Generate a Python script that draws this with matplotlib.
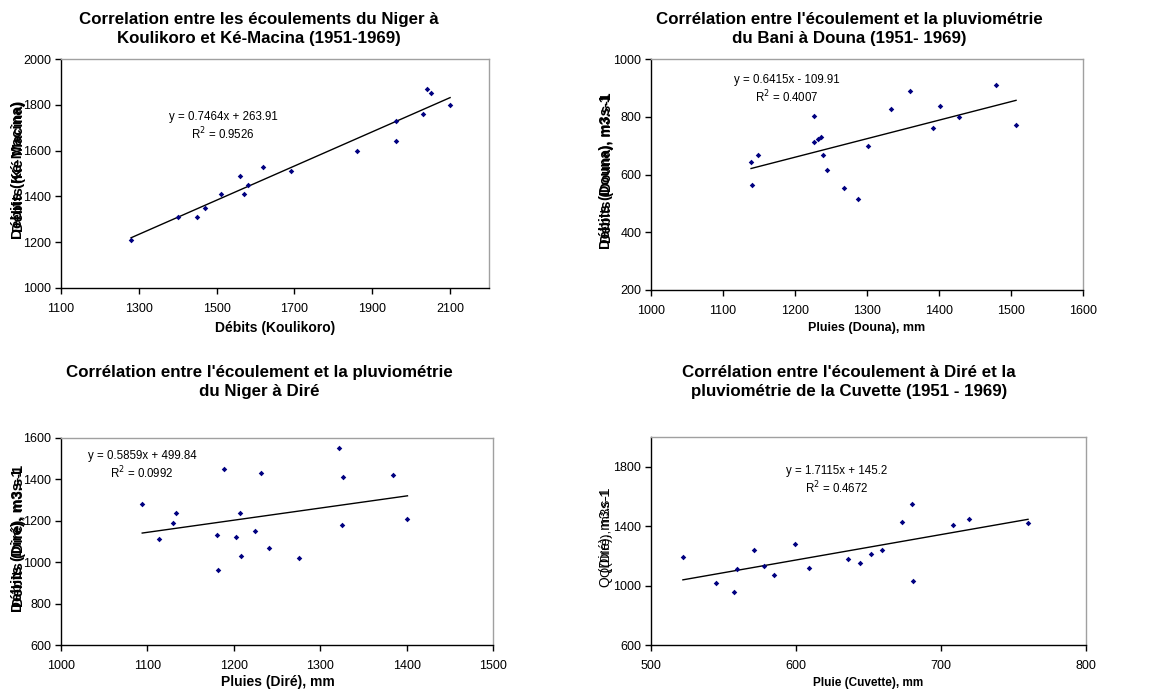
import matplotlib
matplotlib.use("Agg")
import matplotlib.pyplot as plt
import numpy as np

plt.rcParams['font.family'] = ['Liberation Sans', 'DejaVu Sans']

W, H = 1156, 691

# ---- Data ----
kou_x = [1280, 1400, 1450, 1470, 1510, 1560, 1570, 1580, 1620, 1690, 1860, 1960, 1960, 2030, 2040, 2050, 2100]
kem_y = [1210, 1310, 1310, 1350, 1410, 1490, 1410, 1450, 1530, 1510, 1600, 1730, 1640, 1760, 1870, 1850, 1800]
kou_fit = (0.7464, 263.91)

douna_rain = [1139, 1140, 1149, 1227, 1227, 1232, 1236, 1239, 1244, 1268, 1288, 1302, 1333, 1360, 1391, 1402, 1428, 1479, 1507]
douna_q = [645, 562, 668, 802, 711, 723, 729, 668, 615, 553, 516, 697, 828, 890, 760, 837, 798, 910, 771]
douna_fit = (0.6415, -109.91)

dire_rain = [1094, 1114, 1130, 1133, 1181, 1182, 1189, 1203, 1207, 1208, 1225, 1232, 1241, 1276, 1322, 1325, 1326, 1384, 1401]
dire_q = [1280, 1110, 1190, 1240, 1130, 960, 1450, 1120, 1240, 1030, 1150, 1430, 1070, 1020, 1550, 1180, 1410, 1420, 1210]
dire_fit = (0.5859, 499.84)

cuv_rain = [522, 545, 557, 559, 571, 578, 585, 599, 609, 636, 644, 652, 659, 673, 680, 681, 708, 719, 760]
cuv_q = [1190, 1020, 960, 1110, 1240, 1130, 1070, 1280, 1120, 1180, 1150, 1210, 1240, 1430, 1550, 1030, 1410, 1450, 1420]
cuv_fit = (1.7115, 145.2)

titles = [
    "Correlation entre les écoulements du Niger à\nKoulikoro et Ké-Macina (1951-1969)",
    "Corrélation entre l'écoulement et la pluviométrie\ndu Bani à Douna (1951- 1969)",
    "Corrélation entre l'écoulement et la pluviométrie\ndu Niger à Diré",
    "Corrélation entre l'écoulement à Diré et la\npluviométrie de la Cuvette (1951 - 1969)",
]
xlabels = ["Débits (Koulikoro)", "Pluies (Douna), mm", "Pluies (Diré), mm", "Pluie (Cuvette), mm"]
ylabels = [("Débits (Ké-Macina)", "Débits (Ké Macina)"),
           ("Débits (Douna), m3s-1", "Débits (Douna), m3.s-1"),
           ("Débits (Diré), m3s-1", "Débits (Diré), m3.s-1"),
           ("Q (Diré), m3.s-1", "Q(Diré), m3s-1")]
eqs = ["y = 0.7464x + 263.91", "y = 0.6415x - 109.91", "y = 0.5859x + 499.84", "y = 1.7115x + 145.2"]
r2s = ["R$^2$ = 0.9526", "R$^2$ = 0.4007", "R$^2$ = 0.0992", "R$^2$ = 0.4672"]

xlims = [(1100, 2200), (1000, 1600), (1000, 1500), (500, 800)]
xticks = [np.arange(1100, 2101, 200), np.arange(1000, 1601, 100), np.arange(1000, 1501, 100), np.arange(500, 801, 100)]
ylims = [(1000, 2000), (200, 1000), (600, 1600), (600, 2000)]
yticks = [np.arange(1000, 2001, 200), np.arange(200, 1001, 200), np.arange(600, 1601, 200), np.arange(600, 1801, 400)]

xs = [kou_x, douna_rain, dire_rain, cuv_rain]
ys = [kem_y, douna_q, dire_q, cuv_q]
fits = [kou_fit, douna_fit, dire_fit, cuv_fit]

# layout (pixel boxes: left, top, right, bottom)
boxes = [(61, 59, 489, 288), (651, 59, 1083, 290), (61, 438, 493, 645), (651, 437, 1086, 645)]
title_pos = [(259, 29), (849, 29), (259, 382), (849, 382)]
xlabel_pos = [(275, 328), (867, 328), (278, 682), (868, 683)]
xlabel_size = [10, 9, 10, 8.5]
ylabel_pos = [(18, 170), (606, 172), (18, 540), (606, 537)]
ylabel_size = [11, 10.5, 11, 10]
ylabel_weight = ['bold', 'bold', 'bold', 'normal']
eq_pos = [(223, 117), (787, 80), (142, 456), (837, 471)]

fig = plt.figure(figsize=(W / 100, H / 100), dpi=100)

def fx(px):
    return px / W

def fy(py):
    return 1 - py / H

for i in range(4):
    l, t, r, b = boxes[i]
    ax = fig.add_axes([fx(l), fy(b), (r - l) / W, (b - t) / H])
    ax.scatter(xs[i], ys[i], marker='D', s=8, color='#000080', zorder=3, linewidths=0)
    a, c = fits[i]
    xx = np.array([min(xs[i]), max(xs[i])])
    ax.plot(xx, a * xx + c, color='black', lw=1.0)
    ax.set_xlim(*xlims[i])
    ax.set_ylim(*ylims[i])
    ax.set_xticks(xticks[i])
    ax.set_yticks(yticks[i])
    ax.tick_params(direction='out', length=4, width=1, labelsize=9, colors='black')
    ax.tick_params(axis='x', pad=7)
    ax.tick_params(axis='y', pad=3)
    for s in ['top', 'right']:
        ax.spines[s].set_color('#a0a0a0')
        ax.spines[s].set_linewidth(1.0)
    for s in ['left', 'bottom']:
        ax.spines[s].set_color('black')
        ax.spines[s].set_linewidth(1.0)
    ax.set_facecolor('white')

    tx, ty = title_pos[i]
    fig.text(fx(tx), fy(ty), titles[i], ha='center', va='center', fontsize=12.2,
             fontweight='bold', linespacing=1.35)
    lx, ly = xlabel_pos[i]
    fig.text(fx(lx), fy(ly), xlabels[i], ha='center', va='center', fontsize=xlabel_size[i],
             fontweight='bold')
    yx, yy = ylabel_pos[i]
    l1, l2 = ylabels[i]
    fig.text(fx(yx), fy(yy), l1, ha='center', va='center', rotation=90,
             fontsize=ylabel_size[i], fontweight=ylabel_weight[i])
    fig.text(fx(yx + 1), fy(yy - 4), l2, ha='center', va='center', rotation=90,
             fontsize=ylabel_size[i] - 0.5, fontweight=ylabel_weight[i])
    ex, ey = eq_pos[i]
    fig.text(fx(ex), fy(ey), eqs[i], ha='center', va='center', fontsize=8.3)
    fig.text(fx(ex), fy(ey + 17), r2s[i], ha='center', va='center', fontsize=8.3)

fig.savefig("out.png", dpi=100, facecolor='white')
